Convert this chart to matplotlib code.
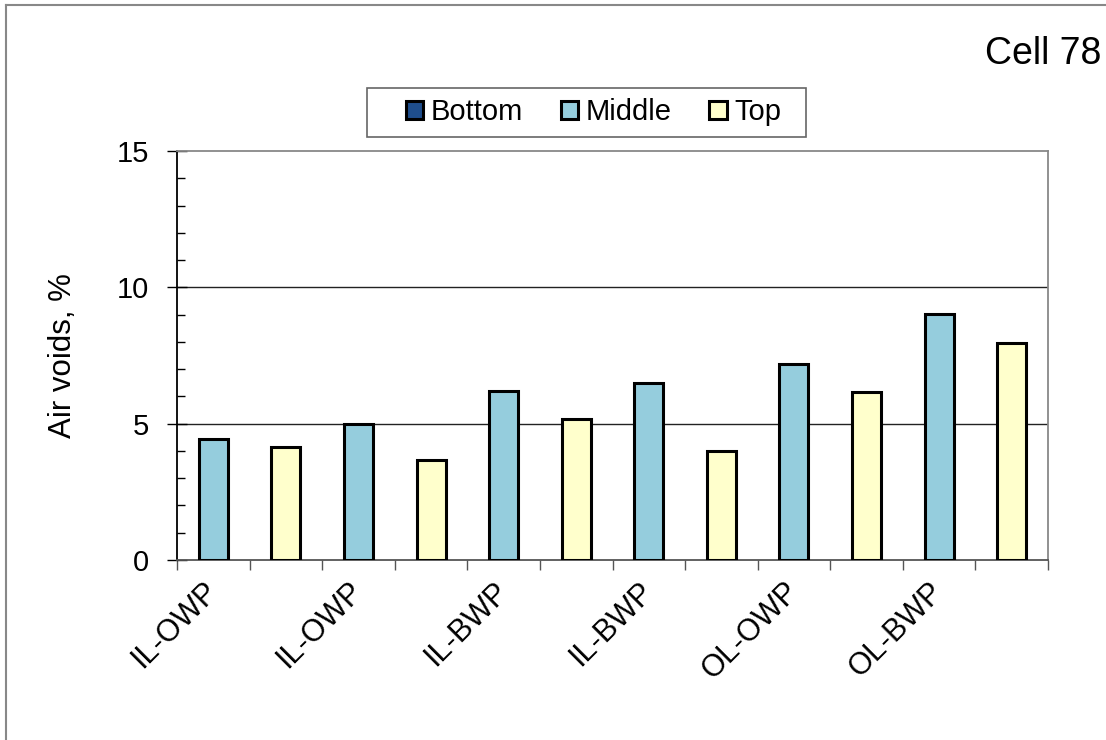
import matplotlib
matplotlib.use("Agg")
import matplotlib.pyplot as plt
import numpy as np
from matplotlib.lines import Line2D
from matplotlib.patches import Rectangle
from matplotlib.ticker import MultipleLocator, FixedLocator

plt.rcParams['font.family'] = ['Liberation Sans', 'DejaVu Sans']

# data
categories = ["IL-OWP", "IL-OWP", "IL-OWP", "IL-OWP", "IL-BWP", "IL-BWP",
              "IL-BWP", "IL-BWP", "OL-OWP", "OL-OWP", "OL-BWP", "OL-BWP"]
bottom_vals = [np.nan] * 12
middle_vals = [4.43, np.nan, 5.0, np.nan, 6.2, np.nan,
               6.48, np.nan, 7.18, np.nan, 9.01, np.nan]
top_vals = [np.nan, 4.14, np.nan, 3.68, np.nan, 5.18,
            np.nan, 4.01, np.nan, 6.17, np.nan, 7.95]
series_names = ["Bottom", "Middle", "Top"]
series_colors = ["#1F4E8C", "#95CDDD", "#FFFFCC"]

W, H = 1106, 740
fig = plt.figure(figsize=(W / 100, H / 100), dpi=100)
ax = fig.add_axes([177 / W, 1 - 560 / H, 871 / W, 409 / H])

x = np.arange(len(categories))
for vals, name, col in zip([bottom_vals, middle_vals, top_vals], series_names, series_colors):
    ax.bar(x, vals, width=0.4, color=col, edgecolor="black", linewidth=2.2,
           label=name, zorder=3)

ax.set_xlim(-0.5, len(categories) - 0.5)
ax.set_ylim(0, 15)

# y axis
ax.yaxis.set_major_locator(MultipleLocator(5))
ax.yaxis.set_minor_locator(MultipleLocator(1))
ax.tick_params(axis="y", which="major", direction="inout", length=14, width=1,
               labelsize=21, pad=13)
ax.tick_params(axis="y", which="minor", direction="in", length=6, width=1)
for yv in [5, 10]:
    ax.axhline(yv, color="#222222", linewidth=1, zorder=1)
ax.set_ylabel("Air voids, %", fontsize=22.5)
ax.yaxis.set_label_coords(-0.114, 0.5)

# x axis: ticks at slot boundaries, labels on every other category
ax.xaxis.set_major_locator(FixedLocator(np.arange(-0.5, len(categories), 1.0)))
ax.set_xticklabels([])
ax.xaxis.set_minor_locator(FixedLocator(x[::2]))
ax.set_xticklabels(categories[::2], minor=True, rotation=45, ha="right",
                   va="center", rotation_mode="anchor", fontsize=22)
ax.tick_params(axis="x", which="major", direction="out", length=7, width=1,
               color="#555555")
ax.tick_params(axis="x", which="minor", length=0, pad=19.5)

ax.spines["left"].set_color("black")
ax.spines["bottom"].set_color("#555555")
ax.spines["top"].set_color("#888888")
ax.spines["right"].set_color("#888888")
for s in ax.spines.values():
    s.set_linewidth(1.3)

# legend frame drawn separately (wide side padding like the original)
fig.add_artist(Rectangle((367 / W, 1 - 137 / H), 439 / W, 49 / H,
                         transform=fig.transFigure, fill=False,
                         edgecolor="#666666", linewidth=1.2))
leg = fig.legend(loc="center", bbox_to_anchor=(593.5 / W, 1 - 112.5 / H), ncol=3,
                 fontsize=21, frameon=False,
                 handlelength=0.6, handleheight=0.6, handletextpad=0.25,
                 columnspacing=1.3, borderpad=0.2, borderaxespad=0)

fig.text(1101 / W, 1 - 64 / H, "Cell 78", ha="right", va="baseline", fontsize=27)

# outer chart border (left and top visible)
fig.add_artist(Line2D([0.005, 0.005], [0, 0.9926], color="#888888", linewidth=1.5))
fig.add_artist(Line2D([0.005, 1.0], [0.9926, 0.9926], color="#888888", linewidth=1.5))

fig.savefig("out.png", dpi=100)
